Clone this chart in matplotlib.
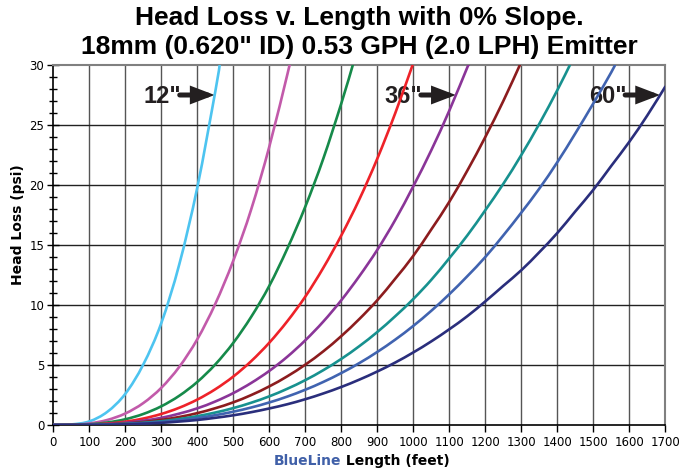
import numpy as np
import matplotlib
matplotlib.use("Agg")
import matplotlib.pyplot as plt
from matplotlib.path import Path
from matplotlib.patches import PathPatch

# lateral length (feet) at which each head loss value is read
lengths = [0, 50, 100, 150, 200, 250, 300, 350, 400, 450, 500, 550, 600, 650,
           700, 750, 800, 850, 900, 950, 1000, 1050, 1100, 1150, 1200, 1250,
           1300, 1350, 1400, 1450, 1500, 1550, 1600, 1650, 1700]

# head loss (psi) per emitter spacing, every 50 ft
loss_12 = [0.00, 0.05, 0.30, 1.10, 2.60, 5.05, 8.50, 13.4, 19.8, 27.8]
loss_18 = [0.00, 0.02, 0.13, 0.42, 0.96, 1.83, 3.10, 4.85, 7.15, 10.1, 13.7,
           18.0, 23.2, 29.2]
loss_24 = [0.00, 0.01, 0.06, 0.21, 0.48, 0.92, 1.56, 2.44, 3.59, 5.05, 6.85,
           9.03, 11.6, 14.7, 18.2, 22.2, 26.8]
loss_30 = [0.00, 0.01, 0.04, 0.12, 0.28, 0.54, 0.92, 1.44, 2.12, 2.98, 4.04,
           5.33, 6.86, 8.65, 10.7, 13.1, 15.8, 18.8, 22.2, 26.0]
loss_36 = [0.00, 0.00, 0.02, 0.08, 0.19, 0.36, 0.60, 0.95, 1.39, 1.96, 2.66,
           3.51, 4.51, 5.69, 7.06, 8.62, 10.4, 12.4, 14.6, 17.1, 19.9, 22.9,
           26.2, 29.8]
loss_42 = [0.00, 0.00, 0.02, 0.06, 0.13, 0.25, 0.43, 0.67, 0.99, 1.40, 1.89,
           2.50, 3.22, 4.06, 5.03, 6.14, 7.41, 8.83, 10.4, 12.2, 14.1, 16.3,
           18.6, 21.2, 24.0, 27.0]
loss_48 = [0.00, 0.00, 0.01, 0.04, 0.10, 0.19, 0.32, 0.50, 0.74, 1.04, 1.41,
           1.86, 2.39, 3.02, 3.74, 4.57, 5.51, 6.57, 7.75, 9.07, 10.5, 12.1,
           13.9, 15.8, 17.9, 20.1, 22.5, 25.1, 27.9]
loss_54 = [0.00, 0.00, 0.01, 0.03, 0.08, 0.15, 0.25, 0.39, 0.58, 0.82, 1.11,
           1.46, 1.88, 2.37, 2.94, 3.59, 4.33, 5.16, 6.09, 7.12, 8.26, 9.52,
           10.9, 12.4, 14.0, 15.8, 17.7, 19.7, 21.9, 24.3, 26.8, 29.4]
loss_60 = [0.00, 0.00, 0.01, 0.02, 0.06, 0.11, 0.18, 0.29, 0.42, 0.60, 0.81,
           1.07, 1.38, 1.73, 2.15, 2.63, 3.17, 3.78, 4.46, 5.21, 6.05, 6.97,
           7.98, 9.07, 10.3, 11.6, 12.9, 14.4, 16.0, 17.8, 19.6, 21.6, 23.6,
           25.8, 28.2]

# length where each curve leaves the top of the chart (30 psi)
top_length = [462, 656, 832, 998, 1153, 1296, 1435, 1560, None]

series = [loss_12, loss_18, loss_24, loss_30, loss_36, loss_42, loss_48,
          loss_54, loss_60]
colors = ["#4dc4f0", "#c25aaa", "#168a4a", "#ee2229", "#8a3598", "#8c1c1e",
          "#17918f", "#4063b0", "#2a2e7c"]

# callouts: label, index of curve the arrow points at
callouts = [('12"', 0), ('36"', 4), ('60"', 8)]
callout_psi = 27.5

x_ticks = list(range(0, 1701, 100))
y_ticks = [0, 5, 10, 15, 20, 25, 30]


def smooth_line(ax, xs, ys, color):
    """Excel-style smoothed line: Catmull-Rom segments as cubic Beziers."""
    pts = np.column_stack([xs, ys]).astype(float)
    n = len(pts)
    verts = [pts[0]]
    codes = [Path.MOVETO]
    for i in range(n - 1):
        p0 = pts[max(i - 1, 0)]
        p1 = pts[i]
        p2 = pts[i + 1]
        p3 = pts[min(i + 2, n - 1)]
        c1 = p1 + (p2 - p0) / 6.0
        c2 = p2 - (p3 - p1) / 6.0
        verts += [c1, c2, p2]
        codes += [Path.CURVE4] * 3
    patch = PathPatch(Path(verts, codes), facecolor="none", edgecolor=color,
                      lw=1.9, capstyle="round", zorder=3)
    ax.add_patch(patch)


fig = plt.figure(figsize=(6.8, 4.69), dpi=100)
ax = fig.add_axes([0.0784, 0.0938, 0.9, 0.7676])

curves = []
for vals, top, col in zip(series, top_length, colors):
    xs = lengths[:len(vals)]
    ys = list(vals)
    if top is not None:
        xs = xs + [top]
        ys = ys + [30.0]
    curves.append((xs, ys))
    smooth_line(ax, xs, ys, col)

ax.set_xlim(0, 1700)
ax.set_ylim(0, 30)
ax.set_xticks(x_ticks)
ax.set_yticks(y_ticks)
ax.set_yticks(np.arange(0, 31, 1), minor=True)
ax.tick_params(axis="x", direction="out", length=5, width=1, labelsize=8.5, pad=3)
ax.tick_params(axis="y", which="major", direction="inout", length=9, width=1,
               labelsize=8.5, pad=2)
ax.tick_params(axis="y", which="minor", direction="inout", length=6, width=1)

for x in x_ticks[1:-1]:
    ax.axvline(x, color="#555555", lw=1.0, zorder=1)
for y in y_ticks[1:-1]:
    ax.axhline(y, color="#222222", lw=1.0, zorder=1)

for side in ["top", "right"]:
    ax.spines[side].set_color("#808080")
    ax.spines[side].set_linewidth(1.5)
for side in ["left", "bottom"]:
    ax.spines[side].set_color("black")
    ax.spines[side].set_linewidth(1.2)

# arrow callouts
for label, idx in callouts:
    xs, ys = curves[idx]
    tip = float(np.interp(callout_psi, ys, xs))
    tail = tip - 97
    ax.annotate("", xy=(tip, callout_psi), xytext=(tail, callout_psi),
                arrowprops=dict(arrowstyle="-|>,head_length=1.1,head_width=0.42",
                                lw=3.6, color="#231f20", shrinkA=0, shrinkB=0,
                                joinstyle="miter"),
                zorder=2)
    ax.text(tail + 4, callout_psi - 0.1, label, ha="right", va="center",
            fontsize=17, fontweight="bold", color="#231f20",
            family="Liberation Sans", zorder=2)

fig.text(0.528, 0.962, "Head Loss v. Length with 0% Slope.", ha="center",
         va="center", fontsize=19, fontweight="bold", family="Liberation Sans")
fig.text(0.528, 0.900, '18mm (0.620" ID) 0.53 GPH (2.0 LPH) Emitter',
         ha="center", va="center", fontsize=19, fontweight="bold",
         family="Liberation Sans")

fig.text(0.026, 0.52, "Head Loss (psi)", rotation=90, ha="center", va="center",
         fontsize=10, fontweight="bold")
fig.text(0.502, 0.018, "BlueLine", ha="right", va="center", fontsize=10,
         fontweight="bold", color="#4060a8")
fig.text(0.502, 0.018, " Length (feet)", ha="left", va="center", fontsize=10,
         fontweight="bold", color="black")

fig.savefig("out.png", dpi=100)
